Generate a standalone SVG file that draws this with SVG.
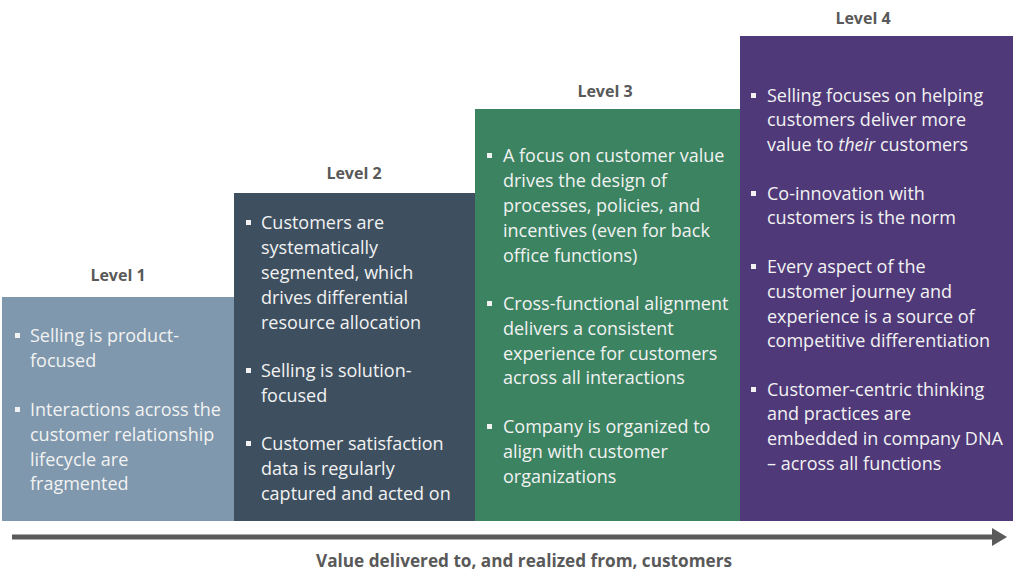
<svg xmlns="http://www.w3.org/2000/svg" width="1024" height="585" viewBox="0 0 1024 585">
<style>
.hd{font-family:"Open Sans","Liberation Sans",sans-serif;font-weight:bold;font-size:16px;fill:#595959;text-anchor:middle}
.tx{font-family:"Open Sans","Liberation Sans",sans-serif;font-size:18px;fill:#f2f2f2}
.bl{fill:#f2f2f2}
.ax{font-family:"Open Sans","Liberation Sans",sans-serif;font-weight:bold;font-size:17px;fill:#595959;text-anchor:middle}
</style>
<rect width="1024" height="585" fill="#ffffff"/>
<g id="level1">
<rect x="2" y="297" width="232" height="224" fill="#7f98ad"/>
<text class="hd" x="118" y="281">Level 1</text>
<rect class="bl" x="15" y="333" width="5" height="5"/>
<text class="tx" x="30" y="342">Selling is product-</text>
<text class="tx" x="30" y="367">focused</text>
<rect class="bl" x="15" y="407" width="5" height="5"/>
<text class="tx" x="30" y="416">Interactions across the</text>
<text class="tx" x="30" y="441">customer relationship</text>
<text class="tx" x="30" y="466">lifecycle are</text>
<text class="tx" x="30" y="490">fragmented</text>
</g>
<g id="level2">
<rect x="234" y="193" width="241" height="328" fill="#3e5060"/>
<text class="hd" x="354" y="179">Level 2</text>
<rect class="bl" x="246" y="220" width="5" height="5"/>
<text class="tx" x="261" y="229">Customers are</text>
<text class="tx" x="261" y="254">systematically</text>
<text class="tx" x="261" y="279">segmented, which</text>
<text class="tx" x="261" y="304">drives differential</text>
<text class="tx" x="261" y="329">resource allocation</text>
<rect class="bl" x="246" y="368" width="5" height="5"/>
<text class="tx" x="261" y="377">Selling is solution-</text>
<text class="tx" x="261" y="402">focused</text>
<rect class="bl" x="246" y="441" width="5" height="5"/>
<text class="tx" x="261" y="450">Customer satisfaction</text>
<text class="tx" x="261" y="475">data is regularly</text>
<text class="tx" x="261" y="500">captured and acted on</text>
</g>
<g id="level3">
<rect x="475" y="109" width="265" height="412" fill="#3b8361"/>
<text class="hd" x="605" y="97">Level 3</text>
<rect class="bl" x="487" y="153" width="5" height="5"/>
<text class="tx" x="503" y="162">A focus on customer value</text>
<text class="tx" x="503" y="187">drives the design of</text>
<text class="tx" x="503" y="212">processes, policies, and</text>
<text class="tx" x="503" y="237">incentives (even for back</text>
<text class="tx" x="503" y="262">office functions)</text>
<rect class="bl" x="487" y="301" width="5" height="5"/>
<text class="tx" x="503" y="310">Cross-functional alignment</text>
<text class="tx" x="503" y="335">delivers a consistent</text>
<text class="tx" x="503" y="360">experience for customers</text>
<text class="tx" x="503" y="384">across all interactions</text>
<rect class="bl" x="487" y="424" width="5" height="5"/>
<text class="tx" x="503" y="433">Company is organized to</text>
<text class="tx" x="503" y="458">align with customer</text>
<text class="tx" x="503" y="483">organizations</text>
</g>
<g id="level4">
<rect x="740" y="36" width="273" height="485" fill="#4f3979"/>
<text class="hd" x="863" y="24">Level 4</text>
<rect class="bl" x="751" y="93" width="5" height="5"/>
<text class="tx" x="767" y="102">Selling focuses on helping</text>
<text class="tx" x="767" y="126">customers deliver more</text>
<text class="tx" x="767" y="151">value to <tspan font-style="italic">their</tspan> customers</text>
<rect class="bl" x="751" y="191" width="5" height="5"/>
<text class="tx" x="767" y="200">Co-innovation with</text>
<text class="tx" x="767" y="224">customers is the norm</text>
<rect class="bl" x="751" y="264" width="5" height="5"/>
<text class="tx" x="767" y="273">Every aspect of the</text>
<text class="tx" x="767" y="298">customer journey and</text>
<text class="tx" x="767" y="323">experience is a source of</text>
<text class="tx" x="767" y="347">competitive differentiation</text>
<rect class="bl" x="751" y="387" width="5" height="5"/>
<text class="tx" x="767" y="396">Customer-centric thinking</text>
<text class="tx" x="767" y="420">and practices are</text>
<text class="tx" x="767" y="445">embedded in company DNA</text>
<text class="tx" x="767" y="470">– across all functions</text>
</g>
<g id="connectors">
<line x1="12" y1="537" x2="993" y2="537" stroke="#5a5a5a" stroke-width="5"/>
<polygon points="992,528 1007,537 992,546" fill="#5a5a5a"/>
</g>
<text class="ax" x="524" y="567" textLength="416" lengthAdjust="spacingAndGlyphs">Value delivered to, and realized from, customers</text>
</svg>
